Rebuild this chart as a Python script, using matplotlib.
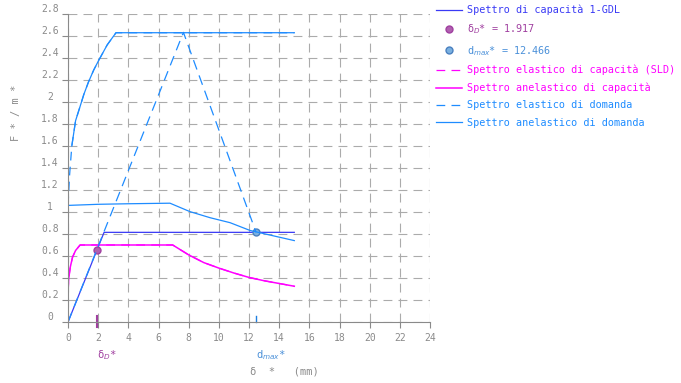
import matplotlib.pyplot as plt

# curva di capacità bilineare (sistema 1-GDL)
cap_x = [0, 2.39, 15]
cap_y = [0, 0.815, 0.815]

# spettro anelastico di capacità (SLD)
cap_an_x = [0, 0.05, 0.15, 0.3, 0.5, 0.8, 6.94, 8.0, 9.0, 10.0, 11.0, 12.0, 13.0, 14.0, 15.0]
cap_an_y = [0.28, 0.40, 0.50, 0.59, 0.65, 0.70, 0.70, 0.61, 0.54, 0.49, 0.445, 0.405, 0.375, 0.35, 0.325]

# spettro elastico di domanda
dom_el_x = [0, 0.1, 0.25, 0.5, 0.8, 1.05, 1.35, 1.7, 2.0, 2.6, 3.18, 15]
dom_el_y = [1.06, 1.33, 1.6, 1.83, 1.96, 2.07, 2.18, 2.29, 2.37, 2.52, 2.63, 2.63]
n_dashed = 2  # tratto iniziale visibile solo tratteggiato

# retta del periodo T* e ritorno a d_max
radial_x = [0, 7.65, 12.466]
radial_y = [0, 2.633, 0.815]

# spettro anelastico di domanda
dom_an_x = [0, 2.0, 4.0, 6.76, 8.09, 9.42, 10.74, 12.07, 13.4, 15.0]
dom_an_y = [1.06, 1.07, 1.075, 1.08, 1.003, 0.948, 0.903, 0.832, 0.79, 0.74]

delta_d = 1.917
delta_d_f = 0.654
d_max = 12.466
d_max_f = 0.815

y_ticks = [0, 0.2, 0.4, 0.6, 0.8, 1, 1.2, 1.4, 1.6, 1.8, 2, 2.2, 2.4, 2.6, 2.8]
y_labels = ["0", "0.2", "0.4", "0.6", "0.8", "1", "1.2", "1.4", "1.6", "1.8",
            "2", "2.2", "2.4", "2.6", "2.8"]

BLUE = "#3a3af5"
MAGENTA = "#ff00ff"
LBLUE = "#1e8cff"
PURPLE = "#a040a0"
GRAY = "#8a8a8a"

plt.rcParams["font.family"] = ["DejaVu Sans Mono"]

fig = plt.figure(figsize=(6.81, 3.83), dpi=100)
ax = fig.add_axes([0.0999, 0.1593, 0.5316, 0.8041])

ax.plot(cap_x, cap_y, color=BLUE, lw=0.9, label="Spettro di capacità 1-GDL")
ax.plot([delta_d], [delta_d_f], "o", ms=5, color=PURPLE, mfc="#b060b0", mec=PURPLE,
        label="δ$_D$* = 1.917")
ax.plot([d_max], [d_max_f], "o", ms=5, color="#4a90d9", mfc="#7ab0e0", mec="#4a80c0",
        label="d$_{max}$* = 12.466")
ax.plot(cap_an_x, cap_an_y, color=MAGENTA, lw=0.9, ls=(0, (7, 5)),
        label="Spettro elastico di capacità (SLD)")
ax.plot(cap_an_x, cap_an_y, color=MAGENTA, lw=1.1, label="Spettro anelastico di capacità")
ax.plot(dom_el_x, dom_el_y, color=LBLUE, lw=0.9, ls=(0, (7, 5)),
        label="Spettro elastico di domanda")
ax.plot(dom_el_x[n_dashed:], dom_el_y[n_dashed:], color=LBLUE, lw=0.9)
ax.plot(radial_x, radial_y, color=LBLUE, lw=0.9, ls=(0, (8, 5)))
ax.plot(dom_an_x, dom_an_y, color=LBLUE, lw=0.9, label="Spettro anelastico di domanda")

ax.set_xlim(0, 24)
ax.set_ylim(0, 2.8)
ax.set_xticks(range(0, 25, 2))
ax.set_yticks(y_ticks)
ax.set_yticklabels(y_labels)
ax.grid(True, color="#ababab", lw=0.8, ls=(0, (8, 5.5)))
ax.set_axisbelow(True)
for s in ["top", "right"]:
    ax.spines[s].set_visible(False)
for s in ["left", "bottom"]:
    ax.spines[s].set_color(GRAY)
ax.tick_params(axis="both", colors=GRAY, labelcolor=GRAY, labelsize=7, length=4)
ax.tick_params(axis="x", pad=4)
ax.tick_params(axis="y", pad=9)
for lab in ax.get_yticklabels():
    lab.set_horizontalalignment("center")
    lab.set_verticalalignment("bottom")

# segni sull'asse per δD* e dmax*
ax.plot([delta_d, delta_d], [-0.045, 0.055], color=PURPLE, lw=1.5, clip_on=False)
ax.plot([d_max, d_max], [0, 0.05], color="#1e7fe0", lw=1.0, clip_on=False)
ax.text(delta_d, -0.30, "δ$_D$*", color=PURPLE, fontsize=7.5, ha="left", va="center")
ax.text(d_max, -0.30, "d$_{max}$*", color="#4a90d9", fontsize=7.5, ha="left", va="center")

fig.text(250 / 681, 1 - 372 / 383, "δ  *   (mm)", color=GRAY, fontsize=7.5,
         ha="left", va="center")
ax.text(-0.145, 0.68, "F * / m *", rotation=90, color=GRAY, fontsize=7.5,
        ha="center", va="center", transform=ax.transAxes)

leg = ax.legend(loc="upper left", bbox_to_anchor=(1.005, 1.043), borderaxespad=0,
                frameon=False, fontsize=7.3, labelcolor="linecolor", handlelength=2.6,
                handletextpad=0.5, labelspacing=0.72)

fig.savefig("out.png", dpi=100)
